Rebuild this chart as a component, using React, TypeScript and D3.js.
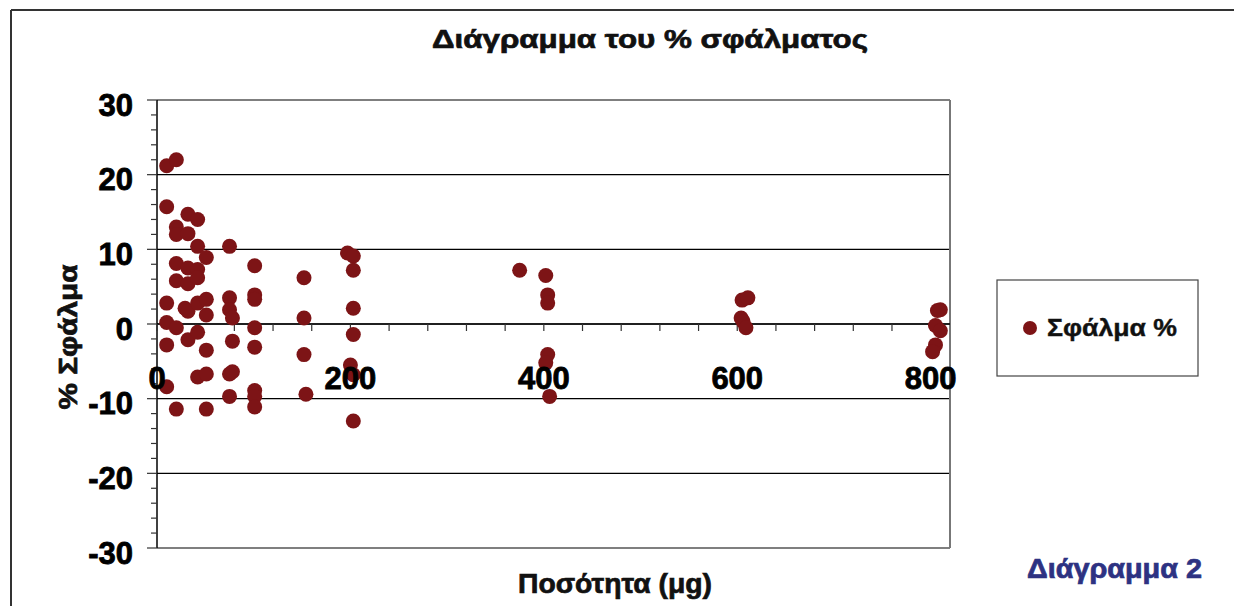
import React from "react";
import * as d3 from "d3";

// Ποσότητα (μg) and % σφάλμα for every measurement
const amounts = [
  10, 10, 10, 10, 10, 10,
  20, 20, 20, 20, 20, 20, 20,
  29,
  32, 32, 32, 32, 32, 32,
  42, 42, 42, 42, 42, 42, 42,
  51, 51, 51, 51, 51, 51,
  75, 75, 75, 75, 75,
  78, 78, 78,
  101, 101, 101, 101, 101, 101, 101, 101,
  152, 152, 152, 154,
  197, 203, 203, 203, 203, 203, 203, 200,
  375,
  402, 404, 404, 404, 402, 406,
  605, 611, 604, 606, 609,
  807, 810, 805, 810, 805, 802,
];
const errors = [
  21.2, 15.7, 2.8, 0.2, -2.8, -8.4,
  22.0, 13.0, 12.0, 8.1, 5.8, -0.5, -11.4,
  2.1,
  14.7, 12.1, 7.5, 5.4, 1.7, -2.1,
  14.0, 10.4, 7.3, 6.2, 2.8, -1.1, -7.1,
  8.9, 3.3, 1.2, -3.5, -6.7, -11.4,
  10.4, 3.5, 1.9, -6.7, -9.7,
  0.8, -2.3, -6.4,
  7.8, 3.9, 3.3, -0.5, -3.1, -8.9, -9.7, -11.1,
  6.2, 0.8, -4.1, -9.4,
  9.5, 9.1, 7.2, 2.1, -1.4, -6.8, -13.0, -5.5,
  7.2,
  6.5, 3.9, 2.8, -4.1, -5.2, -9.7,
  3.2, 3.5, 0.8, 0.35, -0.5,
  1.8, 1.9, -0.2, -0.9, -2.8, -3.7,
];

const xTickLabels = [0, 200, 400, 600, 800];
const yTickLabels = [30, 20, 10, 0, -10, -20, -30];
const seriesName = "Σφάλμα %";

const W = 1234;
const H = 606;
const plot = { left: 157, right: 950, top: 100, bottom: 548 };
const dotColor = "#7d1416";
const font = "'Liberation Sans', Arial, sans-serif";

export default function App() {
  const x = d3.scaleLinear().domain([0, 820]).range([plot.left, plot.right]);
  const y = d3.scaleLinear().domain([-30, 30]).range([plot.bottom, plot.top]);
  const y0 = y(0);

  const minorX = d3.range(0, 801, 40);
  const minorY = d3.range(-30, 31, 2);
  const points = amounts.map((a, i) => [a, errors[i]] as [number, number]);

  // heavier strokes, the original uses a blacker face than Liberation bold
  const heavy = { stroke: "#111", strokeWidth: 0.7 };

  return (
    <svg
      width={W}
      height={H}
      style={{ position: "absolute", left: 0, top: 0, background: "#fff" }}
    >
      <rect x={0} y={0} width={W} height={H} fill="#fff" />
      {/* outer frame */}
      <line x1={11} y1={10} x2={W} y2={10} stroke="#333" strokeWidth={2} />
      <line x1={11} y1={10} x2={11} y2={H} stroke="#333" strokeWidth={2} />

      <text
        x={432}
        y={48}
        fontFamily={font}
        fontWeight="bold"
        fontSize={26}
        textLength={436}
        lengthAdjust="spacingAndGlyphs"
        fill="#111"
        {...heavy}
      >
        Διάγραμμα του % σφάλματος
      </text>

      {/* gridlines */}
      {yTickLabels.map((v) => (
        <line
          key={"g" + v}
          x1={plot.left}
          x2={plot.right}
          y1={y(v)}
          y2={y(v)}
          stroke="#000"
          strokeWidth={1.2}
        />
      ))}
      {/* right border */}
      <line x1={plot.right} x2={plot.right} y1={plot.top} y2={plot.bottom} stroke="#777" strokeWidth={2} />

      {/* y axis */}
      <line x1={plot.left} x2={plot.left} y1={plot.top} y2={plot.bottom} stroke="#000" strokeWidth={1.5} />
      {minorY.map((v) => (
        <line
          key={"my" + v}
          x1={v % 10 === 0 ? plot.left - 10 : plot.left - 6}
          x2={plot.left}
          y1={y(v)}
          y2={y(v)}
          stroke="#333"
          strokeWidth={1.2}
        />
      ))}

      {/* x axis at zero */}
      <line x1={plot.left} x2={plot.right} y1={y0} y2={y0} stroke="#000" strokeWidth={1.5} />
      {minorX.map((v) => (
        <line key={"mx" + v} x1={x(v)} x2={x(v)} y1={y0} y2={y0 + 7} stroke="#333" strokeWidth={1.2} />
      ))}

      {/* points */}
      {points.map((p, i) => (
        <circle key={i} cx={x(p[0])} cy={y(p[1])} r={7.5} fill={dotColor} />
      ))}

      {/* tick labels */}
      {yTickLabels.map((v) => (
        <text
          key={"yl" + v}
          x={133}
          y={y(v) + 15.5}
          textAnchor="end"
          fontFamily={font}
          fontWeight="bold"
          fontSize={31}
          fill="#000"
          stroke="#000"
          strokeWidth={0.8}
        >
          {v}
        </text>
      ))}
      {xTickLabels.map((v) => (
        <text
          key={"xl" + v}
          x={x(v)}
          y={389}
          textAnchor="middle"
          fontFamily={font}
          fontWeight="bold"
          fontSize={31}
          fill="#000"
          stroke="#000"
          strokeWidth={0.8}
        >
          {v}
        </text>
      ))}

      {/* axis titles */}
      <text
        transform="translate(77,337) rotate(-90)"
        textAnchor="middle"
        fontFamily={font}
        fontWeight="bold"
        fontSize={25}
        textLength={145}
        lengthAdjust="spacingAndGlyphs"
        fill="#111"
        {...heavy}
      >
        % Σφάλμα
      </text>
      <text
        x={518}
        y={593}
        fontFamily={font}
        fontWeight="bold"
        fontSize={27}
        textLength={194}
        lengthAdjust="spacingAndGlyphs"
        fill="#111"
        {...heavy}
      >
        Ποσότητα (μg)
      </text>

      {/* legend */}
      <rect x={997} y={280} width={201} height={96} fill="#fff" stroke="#444" strokeWidth={1.2} />
      <circle cx={1030} cy={328} r={7} fill={dotColor} />
      <text
        x={1047}
        y={336}
        fontFamily={font}
        fontWeight="bold"
        fontSize={23}
        textLength={130}
        lengthAdjust="spacingAndGlyphs"
        fill="#111"
        stroke="#111"
        strokeWidth={0.4}
      >
        {seriesName}
      </text>

      <text
        x={1027}
        y={578}
        fontFamily={font}
        fontWeight="bold"
        fontSize={27}
        textLength={175}
        lengthAdjust="spacingAndGlyphs"
        fill="#2d3282"
        stroke="#2d3282"
        strokeWidth={0.7}
      >
        Διάγραμμα 2
      </text>
    </svg>
  );
}
